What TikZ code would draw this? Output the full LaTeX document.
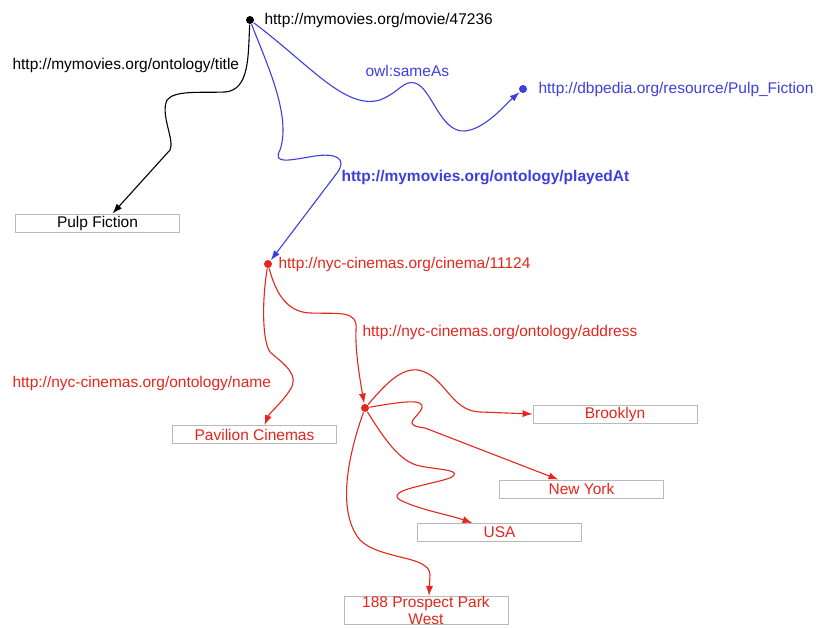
\documentclass[tikz,border=0pt]{standalone}
\usepackage{fontspec}
\setmainfont{Liberation Sans}
\usetikzlibrary{arrows.meta}
\definecolor{rdfred}{RGB}{228,38,28}
\definecolor{rdfblue}{RGB}{62,62,222}
\begin{document}
\begin{tikzpicture}
  [x=1pt,y=-1pt,line width=1.1pt,>={Latex[length=10pt,width=7pt]},
   every node/.style={font=\fontsize{15.5}{18}\selectfont,inner sep=0pt}]
  \tikzstyle{dot} = [circle,fill,minimum size=8pt]
  \tikzstyle{lit} = [draw=gray!55,line width=0.8pt,fill=white,minimum width=164pt,minimum height=18pt]
  \tikzstyle{uri} = [anchor=west]
  \useasboundingbox (0,0) rectangle (820,628);

  % resources
  \node[dot,black]   (movie)  at (250,20)  {};
  \node[dot,rdfblue] (dbp)    at (523,89)  {};
  \node[dot,rdfred]  (cinema) at (268,264) {};
  \node[dot,rdfred]  (addr)   at (365,408) {};
  \node[uri] at (264,20)  {http://mymovies.org/movie/47236};
  \node[uri,text=rdfblue] at (538,89)  {http://dbpedia.org/resource/Pulp\_Fiction};
  \node[uri,text=rdfred]  at (278,264) {http://nyc-cinemas.org/cinema/11124};

  % literals
  \node[lit] (pulp) at (97.5,223) {Pulp Fiction};
  \foreach \name/\x/\y/\txt in {pav/254.5/434.5/Pavilion Cinemas,brook/615/414/Brooklyn,
                                ny/581.5/489/New York,usa/499.5/532.5/USA}
    \node[lit,text=rdfred] (\name) at (\x,\y) {\txt};
  \node[lit,text=rdfred,anchor=north,align=center,font=\fontsize{15.5}{16.5}\selectfont] (prospect) at (426,596) {188 Prospect Park\\West};

  % predicates
  \node[uri] at (12,65)  {http://mymovies.org/ontology/title};
  \node[uri,text=rdfblue] at (365,71)  {owl:sameAs};
  \node[uri,text=rdfblue,font=\fontsize{15.5}{18}\selectfont\bfseries] at (341,178) {http://mymovies.org/ontology/playedAt};
  \node[uri,text=rdfred] at (362,332) {http://nyc-cinemas.org/ontology/address};
  \node[uri,text=rdfred] at (12,383)  {http://nyc-cinemas.org/ontology/name};

  \draw[->] (movie) .. controls (248,55) and (250,90) .. (225,92) .. controls (200,93) and (175,90) .. (167,100)
     .. controls (160,115) and (175,140) .. (170,150) -- ([xshift=15pt]pulp.north);
  \draw[->,rdfblue] (movie) .. controls (310,65) and (345,110) .. (380,100) .. controls (400,92) and (403,80) .. (415,83)
     .. controls (432,88) and (440,133) .. (465,131) .. controls (485,129) and (505,105) .. (dbp);
  \draw[->,rdfblue] (movie) .. controls (265,60) and (292,115) .. (280,150) .. controls (272,165) and (290,160) .. (315,156)
     .. controls (335,153) and (348,158) .. (337,173) -- (cinema);
  \draw[->,rdfred] (cinema) .. controls (262,300) and (262,340) .. (270,352) .. controls (285,365) and (300,375) .. (290,390)
     .. controls (280,405) and (270,412) .. ([xshift=10pt]pav.north);
  \draw[->,rdfred] (cinema) .. controls (275,290) and (285,312) .. (310,313) .. controls (340,314) and (358,310) .. (356,330)
     .. controls (355,350) and (360,380) .. (addr);
  \draw[->,rdfred] (addr) .. controls (385,385) and (400,368) .. (418,370) .. controls (445,375) and (450,411) .. (480,412)
     -- (brook.west);
  \draw[->,rdfred] (addr) .. controls (400,402) and (425,398) .. (422,408) .. controls (418,418) and (400,425) .. (425,428)
     -- ([xshift=-23pt]ny.north);
  \draw[->,rdfred] (addr) .. controls (385,440) and (400,462) .. (420,466) .. controls (440,470) and (465,470) .. (450,478)
     .. controls (430,485) and (385,490) .. (400,500) .. controls (420,510) and (450,515) .. ([xshift=-27pt]usa.north);
  \draw[->,rdfred] (addr) .. controls (350,450) and (335,510) .. (360,540) .. controls (380,560) and (430,555) .. (430,575)
     -- ([xshift=3pt]prospect.north);
\end{tikzpicture}
\end{document}
